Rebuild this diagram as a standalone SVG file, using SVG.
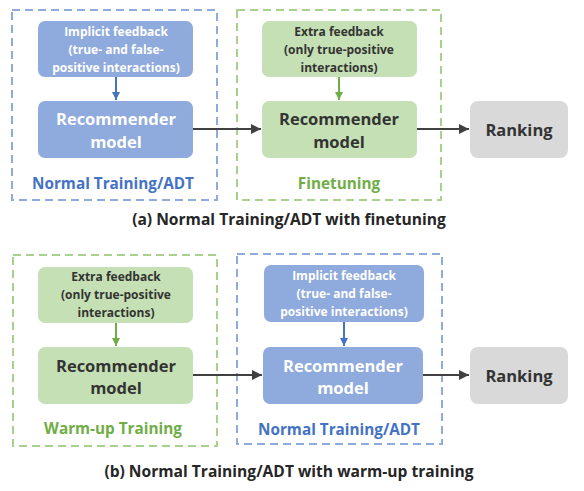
<svg xmlns="http://www.w3.org/2000/svg" width="584" height="491" viewBox="0 0 584 491">
<defs>
<style>
text{font-family:"Open Sans","Liberation Sans",sans-serif;font-weight:bold;text-anchor:middle}
.dashB{fill:none;stroke:#8FAADC;stroke-width:2;stroke-dasharray:8,5}
.dashG{fill:none;stroke:#A9D18E;stroke-width:2;stroke-dasharray:8,5}
.nB{fill:#8FAADC}
.nG{fill:#C5E0B4}
.nR{fill:#D9D9D9}
.small{font-size:12px}
.big{font-size:16.5px}
.lbl{font-size:15.3px}
.wt{fill:#FFFFFF}
.dk{fill:#333333}
.bt{fill:#4472C4}
.gt{fill:#70AD47}
.cap{font-size:15.6px;fill:#262626}
.ad{stroke:#404040;stroke-width:2;fill:none}
.ab{stroke:#4472C4;stroke-width:2;fill:none}
.ag{stroke:#70AD47;stroke-width:2;fill:none}
</style>
<marker id="mD" viewBox="0 0 10 10" refX="10" refY="5" markerWidth="5" markerHeight="5" orient="auto" markerUnits="strokeWidth"><path d="M0,0 L10,5 L0,10 z" fill="#404040"/></marker>
<marker id="mB" viewBox="0 0 10 10" refX="10" refY="5" markerWidth="4" markerHeight="4" orient="auto" markerUnits="strokeWidth"><path d="M0,0 L10,5 L0,10 z" fill="#4472C4"/></marker>
<marker id="mG" viewBox="0 0 10 10" refX="10" refY="5" markerWidth="4" markerHeight="4" orient="auto" markerUnits="strokeWidth"><path d="M0,0 L10,5 L0,10 z" fill="#70AD47"/></marker>
</defs>

<g id="groupA-normal">
<rect class="dashB" x="12" y="10" width="205" height="190"/>
<text class="lbl bt" x="113" y="189">Normal Training/ADT</text>
</g>
<g id="groupA-finetune">
<rect class="dashG" x="237" y="10" width="204" height="190"/>
<text class="lbl gt" x="339" y="189">Finetuning</text>
</g>
<g id="a-implicit">
<rect class="nB" x="38" y="21" width="155" height="56" rx="7"/>
<text class="small wt" x="116" y="36">Implicit feedback</text>
<text class="small wt" x="116" y="54">(true- and false-</text>
<text class="small wt" x="116" y="72">positive interactions)</text>
</g>
<g id="a-rec1">
<rect class="nB" x="38" y="101" width="155" height="57" rx="7"/>
<text class="big wt" x="116" y="125">Recommender</text>
<text class="big wt" x="116" y="148">model</text>
</g>
<g id="a-extra">
<rect class="nG" x="262" y="21" width="155" height="56" rx="7"/>
<text class="small dk" x="339" y="36">Extra feedback</text>
<text class="small dk" x="339" y="54">(only true-positive</text>
<text class="small dk" x="339" y="72">interactions)</text>
</g>
<g id="a-rec2">
<rect class="nG" x="262" y="101" width="155" height="57" rx="7"/>
<text class="big dk" x="339" y="125">Recommender</text>
<text class="big dk" x="339" y="148">model</text>
</g>
<g id="a-ranking">
<rect class="nR" x="470" y="101" width="98" height="57" rx="8"/>
<text class="big dk" x="519" y="136">Ranking</text>
</g>
<text class="cap" x="289" y="225">(a) Normal Training/ADT with finetuning</text>

<g id="groupB-warmup">
<rect class="dashG" x="13" y="255" width="204" height="191"/>
<text class="lbl gt" x="113" y="434">Warm-up Training</text>
</g>
<g id="groupB-normal">
<rect class="dashB" x="237" y="254" width="205" height="190"/>
<text class="lbl bt" x="339" y="435">Normal Training/ADT</text>
</g>
<g id="b-extra">
<rect class="nG" x="38" y="267" width="155" height="56" rx="7"/>
<text class="small dk" x="116" y="281">Extra feedback</text>
<text class="small dk" x="116" y="299">(only true-positive</text>
<text class="small dk" x="116" y="317">interactions)</text>
</g>
<g id="b-rec1">
<rect class="nG" x="38" y="347" width="155" height="57" rx="7"/>
<text class="big dk" x="116" y="372">Recommender</text>
<text class="big dk" x="116" y="394">model</text>
</g>
<g id="b-implicit">
<rect class="nB" x="264" y="265" width="160" height="57" rx="7"/>
<text class="small wt" x="344" y="280">Implicit feedback</text>
<text class="small wt" x="344" y="298">(true- and false-</text>
<text class="small wt" x="344" y="316">positive interactions)</text>
</g>
<g id="b-rec2">
<rect class="nB" x="263" y="347" width="160" height="57" rx="7"/>
<text class="big wt" x="343" y="372">Recommender</text>
<text class="big wt" x="343" y="394">model</text>
</g>
<g id="b-ranking">
<rect class="nR" x="470" y="347" width="98" height="57" rx="8"/>
<text class="big dk" x="519" y="382">Ranking</text>
</g>
<text class="cap" x="289" y="477">(b) Normal Training/ADT with warm-up training</text>

<g id="connectors">
<line class="ab" x1="116" y1="77" x2="116" y2="100" marker-end="url(#mB)"/>
<line class="ag" x1="339" y1="77" x2="339" y2="100" marker-end="url(#mG)"/>
<line class="ad" x1="193" y1="129" x2="261" y2="129" marker-end="url(#mD)"/>
<line class="ad" x1="417" y1="129" x2="469" y2="129" marker-end="url(#mD)"/>
<line class="ag" x1="116" y1="323" x2="116" y2="346" marker-end="url(#mG)"/>
<line class="ab" x1="344" y1="322" x2="344" y2="346" marker-end="url(#mB)"/>
<line class="ad" x1="193" y1="375" x2="262" y2="375" marker-end="url(#mD)"/>
<line class="ad" x1="423" y1="375" x2="469" y2="375" marker-end="url(#mD)"/>
</g>
</svg>
